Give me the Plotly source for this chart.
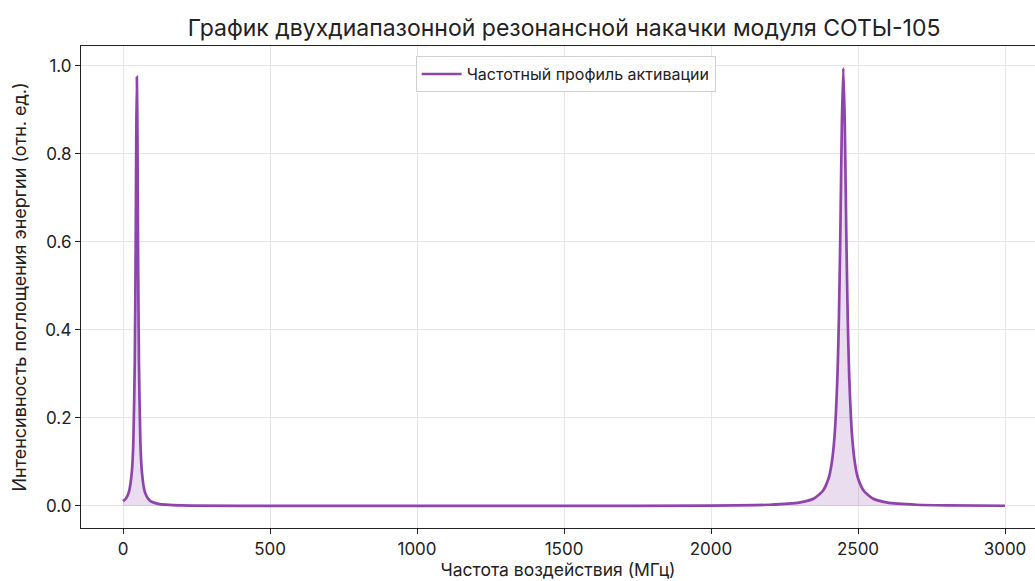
import plotly.graph_objects as go

freq_mhz = [0, 10, 20, 30, 35, 40, 43, 45, 47, 49, 51, 54, 59, 64, 74, 90, 120, 200, 500,
            1000, 1500, 2000, 2200, 2300, 2350, 2380, 2400, 2410, 2420, 2430, 2435, 2440,
            2445, 2450, 2455, 2460, 2465, 2470, 2480, 2490, 2500, 2520, 2550, 2600, 2700,
            2800, 3000]
intensity = [0.011, 0.017, 0.032, 0.078, 0.144, 0.33, 0.59, 0.84, 0.975, 0.84, 0.59, 0.33,
             0.144, 0.078, 0.032, 0.013, 0.0047, 0.0012, 0.0002,
             0.0002, 0.0003, 0.0009, 0.0028, 0.0076, 0.017, 0.034, 0.063, 0.095, 0.157,
             0.295, 0.427, 0.625, 0.867, 0.995, 0.867, 0.625, 0.427, 0.295, 0.157, 0.095,
             0.063, 0.034, 0.017, 0.0076, 0.0028, 0.0014, 0.0006]

x_ticks = [0, 500, 1000, 1500, 2000, 2500, 3000]
y_ticks = [0.0, 0.2, 0.4, 0.6, 0.8, 1.0]

title_text = "График двухдиапазонной резонансной накачки модуля СОТЫ-105"
series_name = "Частотный профиль активации"
x_title = "Частота воздействия (МГц)"
y_title = "Интенсивность поглощения энергии (отн. ед.)"

FONT = "Inter"
purple = "#8E44AD"
txt = "#222222"

fig = go.Figure()
fig.add_trace(go.Scatter(
    x=freq_mhz, y=intensity, mode="lines", fill="tozeroy",
    fillcolor="rgba(142,68,173,0.18)", line=dict(width=0, shape="spline", smoothing=0.6),
    showlegend=False, hoverinfo="skip",
))
fig.add_trace(go.Scatter(
    x=freq_mhz, y=intensity, mode="lines",
    line=dict(color=purple, width=2.7, shape="spline", smoothing=0.6),
    name=series_name, showlegend=True,
))

fig.update_layout(
    width=1035, height=581,
    margin=dict(l=81, r=0, t=46, b=53),
    paper_bgcolor="white", plot_bgcolor="white",
    font=dict(family=FONT, color=txt),
    title=dict(text=title_text, x=0.545, xanchor="center", y=0.952, yanchor="middle",
               font=dict(size=23, family=FONT, color=txt)),
    showlegend=True,
    legend=dict(x=0.508, xanchor="center", y=0.979, yanchor="top", itemwidth=40,
                bgcolor="rgba(255,255,255,0.85)", bordercolor="#d0d0d0", borderwidth=1,
                font=dict(size=16, family=FONT, color=txt)),
    xaxis=dict(range=[-143, 3102], tickvals=x_ticks, ticktext=[str(v) for v in x_ticks],
               showgrid=True, gridcolor="#e6e6e6", gridwidth=1,
               showline=True, linecolor=txt, linewidth=1.2, mirror=True,
               ticks="outside", ticklen=5, tickcolor=txt, zeroline=False,
               tickfont=dict(size=17, family=FONT, color=txt),
               title=dict(text=x_title, font=dict(size=17.5, family=FONT, color=txt), standoff=6)),
    yaxis=dict(range=[-0.05, 1.045], tickvals=y_ticks, ticktext=[f"{v:.1f}" for v in y_ticks],
               showgrid=True, gridcolor="#e6e6e6", gridwidth=1,
               showline=True, linecolor=txt, linewidth=1.2, mirror=True,
               ticks="outside", ticklen=5, tickcolor=txt, zeroline=False,
               tickfont=dict(size=17, family=FONT, color=txt),
               title=dict(text=y_title, font=dict(size=18, family=FONT, color=txt), standoff=14)),
)

fig.write_html("out.html", config={"displayModeBar": False},
               post_script="document.body.style.margin='0';document.body.style.overflow='hidden';")
